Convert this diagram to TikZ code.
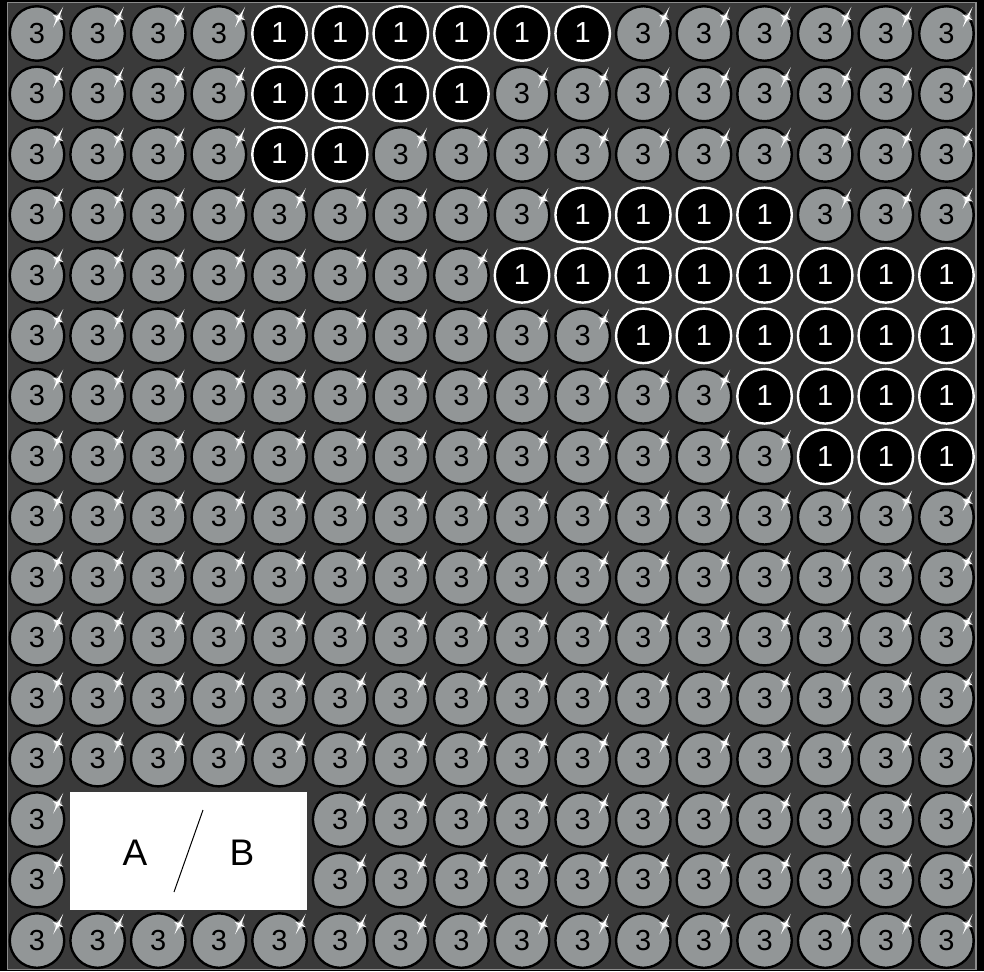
\documentclass[tikz,border=0pt]{standalone}
\usepackage{fontspec}
\setmainfont{Liberation Sans}
\newfontfamily\digitface{Liberation Sans}
\definecolor{bgdark}{HTML}{3A3A3A}
\definecolor{cgray}{HTML}{929697}
\definecolor{framegray}{HTML}{8C8C8C}
\tikzset{
  gcirc/.style={circle, draw=black, line width=2.4pt, fill=cgray, minimum size=54.5pt, inner sep=0pt, font=\digitface\fontsize{29pt}{29pt}\selectfont, text=black},
  bcirc/.style={circle, draw=white, line width=2.4pt, fill=black, minimum size=54.5pt, inner sep=0pt, font=\digitface\fontsize{29pt}{29pt}\selectfont, text=white},
  sparkle/.style={fill=white},
  legendbox/.style={fill=white, draw=none, minimum width=237pt, minimum height=118pt, inner sep=0pt},
  legendtext/.style={font=\fontsize{37pt}{37pt}\selectfont, text=black, inner sep=0pt}
}
\begin{document}
\begin{tikzpicture}[x=1pt,y=-1pt]
\useasboundingbox (0,0) rectangle (984,971);
\fill[black] (0,0) rectangle (984,971);
\draw[framegray, fill=bgdark, line width=1.2pt] (7.5,2.5) rectangle (976,969.5);
\foreach \r/\a/\b in {0/4/9,1/4/7,2/4/5,3/9/12,4/8/15,5/10/15,6/12/15,7/13/15,8/99/99,9/99/99,10/99/99,11/99/99,12/99/99,13/99/99,14/99/99,15/99/99} {
  \foreach \c in {0,...,15} {
    \pgfmathtruncatemacro\isone{(\c>=\a)&&(\c<=\b)}
    \pgfmathtruncatemacro\isgap{(\r>=13)&&(\r<=14)&&(\c>=1)&&(\c<=4)}
    \ifnum\isgap=0
      \ifnum\isone=1
        \node[bcirc, text depth=1pt] (n-\r-\c) at ({37+60.63*\c},{33.5+60.47*\r}) {1};
      \else
        \node[gcirc, text depth=1pt] (n-\r-\c) at ({37+60.63*\c},{33.5+60.47*\r}) {3};
        \path (n-\r-\c.center) ++(21,-16) coordinate (s-\r-\c);
        \fill[white, opacity=0.35] (s-\r-\c) circle (4.2);
        \fill[sparkle] (s-\r-\c) +(-64:12) -- +(-19:1.6) -- +(26:6) -- +(71:1.6) -- +(116:11) -- +(161:1.6) -- +(206:6) -- +(251:1.6) -- cycle;
        \fill[white] (s-\r-\c) circle (2.3);
      \fi
    \fi
  }
}
\node[legendbox] (legend) at (188.5,851) {};
\node[legendtext] (la) at (135,853) {A};
\node[legendtext] (lb) at (242,853) {B};
\coordinate (sl1) at (174,892);
\coordinate (sl2) at (203,810);
\draw[black, line width=1pt] (sl1) -- (sl2);
\end{tikzpicture}
\end{document}
